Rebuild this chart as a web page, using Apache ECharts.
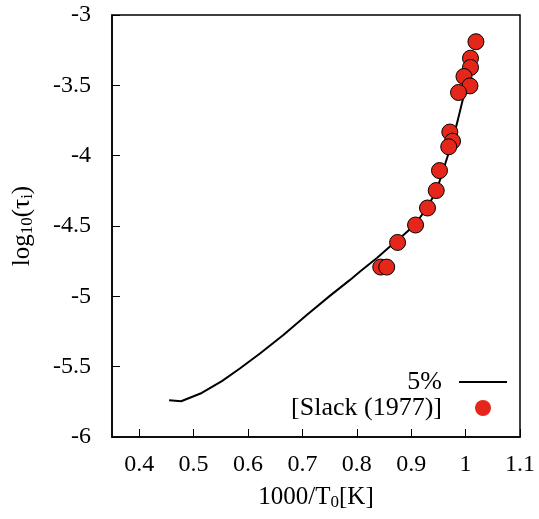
<!DOCTYPE html>
<html>
<head>
<meta charset="utf-8">
<script src="https://cdn.jsdelivr.net/npm/echarts@6/dist/echarts.min.js"></script>
<style>
  html, body { margin: 0; padding: 0; background: #fff; }
  #chart { width: 539px; height: 519px; }
</style>
</head>
<body>
<div id="chart"></div>
<script>
// Model curve (5%)
var curveX = [0.455, 0.477, 0.515, 0.552, 0.585, 0.622, 0.665, 0.708, 0.751, 0.787,
              0.806, 0.837, 0.861, 0.876, 0.907, 0.929, 0.946, 0.958, 0.975, 0.986, 0.995, 1.003];
var curveY = [-5.739, -5.746, -5.687, -5.603, -5.513, -5.406, -5.275, -5.133, -4.995, -4.885,
              -4.824, -4.728, -4.646, -4.598, -4.491, -4.369, -4.255, -4.113, -3.906, -3.742, -3.599, -3.54];

// Measurements [Slack (1977)]
var slackX = [1.019, 1.009, 1.009, 0.997, 1.008, 0.987, 0.971, 0.976, 0.969, 0.952,
              0.946, 0.930, 0.908, 0.875, 0.844, 0.855];
var slackY = [-3.19, -3.307, -3.373, -3.437, -3.504, -3.551, -3.832, -3.897, -3.937, -4.106,
              -4.248, -4.372, -4.493, -4.617, -4.792, -4.792];

var xTicks = [0.4, 0.5, 0.6, 0.7, 0.8, 0.9, 1.0, 1.1];

var FONT = "'Liberation Serif', 'Times New Roman', serif";

function pairs(xs, ys) {
  return xs.map(function (x, i) { return [x, ys[i]]; });
}

var chart = echarts.init(document.getElementById('chart'), null, { renderer: 'canvas' });

chart.setOption({
  animation: false,
  backgroundColor: '#fff',
  textStyle: { fontFamily: FONT, color: '#000' },
  grid: {
    left: 112, right: 19, top: 15, bottom: 82,
    show: true, borderColor: '#000', borderWidth: 1.5, backgroundColor: 'transparent'
  },
  legend: {
    orient: 'vertical',
    align: 'right',
    right: 27,
    top: 364,
    itemWidth: 48,
    itemHeight: 16,
    itemGap: 0,
    selectedMode: false,
    textStyle: { fontFamily: FONT, fontSize: 26, color: '#000', padding: [0, 12, 0, 0] },
    data: [
      // plain horizontal stroke for the curve entry
      { name: '5%', icon: 'path://M0,0 L48,0 L48,2 L0,2 Z', itemStyle: { color: '#000' } },
      { name: '[Slack (1977)]', icon: 'circle', itemStyle: { borderWidth: 0 } }
    ]
  },
  xAxis: {
    type: 'value',
    min: 0.35,
    max: 1.1,
    name: '1000/T{sub|0}[K]',
    nameLocation: 'middle',
    nameGap: 46,
    nameTextStyle: {
      fontFamily: FONT, fontSize: 25, color: '#000',
      rich: { sub: { fontFamily: FONT, fontSize: 17, padding: [11, 0, 0, 0], color: '#000' } }
    },
    axisLine: { lineStyle: { color: '#000', width: 1.5 } },
    axisTick: { inside: true, length: 8, customValues: xTicks, lineStyle: { color: '#000' } },
    axisLabel: {
      customValues: xTicks,
      margin: 16,
      fontFamily: FONT, fontSize: 24, color: '#000',
      formatter: function (v) { return String(Math.round(v * 10) / 10); }
    },
    splitLine: { show: false }
  },
  yAxis: {
    type: 'value',
    min: -6,
    max: -3,
    interval: 0.5,
    name: 'log{sub|10}(τ{sub|i})',
    nameLocation: 'middle',
    nameRotate: 90,
    nameGap: 76,
    nameTextStyle: {
      fontFamily: FONT, fontSize: 25, color: '#000',
      rich: { sub: { fontFamily: FONT, fontSize: 17, padding: [11, 0, 0, 0], color: '#000' } }
    },
    axisLine: { lineStyle: { color: '#000', width: 1.5 } },
    axisTick: { inside: true, length: 8, lineStyle: { color: '#000' } },
    axisLabel: { margin: 21, fontFamily: FONT, fontSize: 24, color: '#000' },
    splitLine: { show: false }
  },
  series: [
    {
      name: '5%',
      type: 'line',
      data: pairs(curveX, curveY),
      symbol: 'none',
      lineStyle: { color: '#000', width: 2 },
      itemStyle: { color: '#000' },
      z: 2
    },
    {
      name: '[Slack (1977)]',
      type: 'scatter',
      data: pairs(slackX, slackY),
      symbol: 'circle',
      symbolSize: 16,
      itemStyle: { color: '#e5261a', borderColor: '#000', borderWidth: 1, opacity: 1 },
      z: 3
    }
  ]
});
</script>
</body>
</html>
